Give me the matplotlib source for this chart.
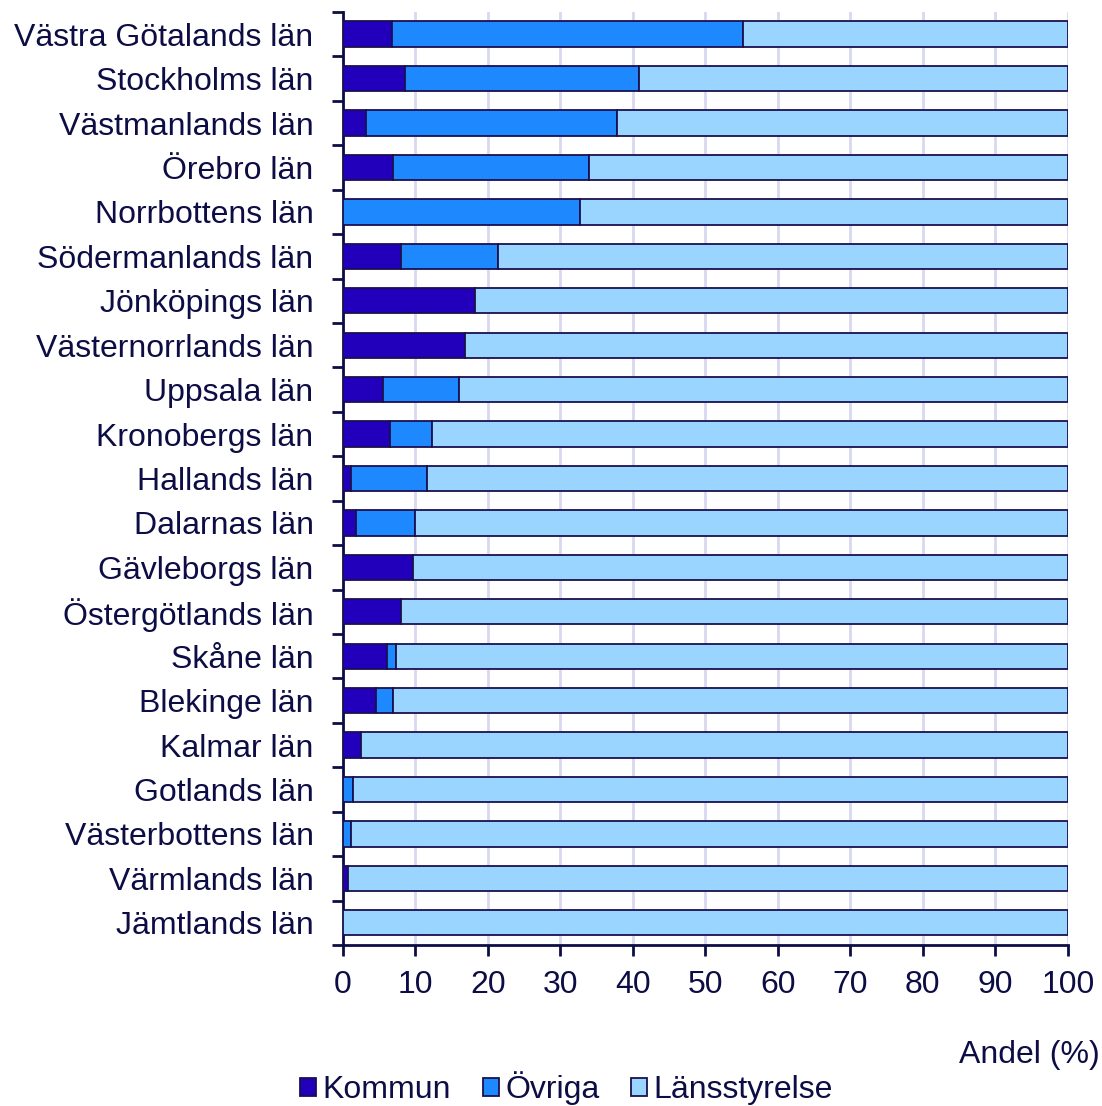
import matplotlib.pyplot as plt
import numpy as np

plt.rcParams['font.family'] = ['Liberation Sans', 'DejaVu Sans']

lan = ["Västra Götalands län", "Stockholms län", "Västmanlands län", "Örebro län",
       "Norrbottens län", "Södermanlands län", "Jönköpings län", "Västernorrlands län",
       "Uppsala län", "Kronobergs län", "Hallands län", "Dalarnas län",
       "Gävleborgs län", "Östergötlands län", "Skåne län", "Blekinge län",
       "Kalmar län", "Gotlands län", "Västerbottens län", "Värmlands län",
       "Jämtlands län"]
kommun = [6.8, 8.6, 3.2, 7.0, 0.0, 8.0, 18.2, 16.8, 5.5, 6.5, 1.2, 1.8,
          9.7, 8.1, 6.1, 4.6, 2.5, 0.0, 0.0, 0.7, 0.0]
ovriga = [48.4, 32.2, 34.6, 26.9, 32.7, 13.4, 0.0, 0.0, 10.6, 5.8, 10.4, 8.1,
          0.0, 0.0, 1.3, 2.3, 0.0, 1.4, 1.1, 0.0, 0.0]
lansstyrelse = [100 - k - o for k, o in zip(kommun, ovriga)]

c_kommun = '#2200bb'
c_ovriga = '#1e88ff'
c_lans = '#99d5ff'
edge = '#1a1050'
txt = '#0d0d45'

fig = plt.figure(figsize=(11.02, 11.06), dpi=100)
ax = fig.add_axes([0.311, 0.1456, 0.658, 0.8436])

y = np.arange(len(lan))
kommun = np.array(kommun)
ovriga = np.array(ovriga)
lansstyrelse = np.array(lansstyrelse)
h = 0.57
ax.barh(y, kommun, height=h, color=c_kommun, edgecolor=edge, linewidth=1.3, label='Kommun', zorder=3)
ax.barh(y, ovriga, left=kommun, height=h, color=c_ovriga, edgecolor=edge, linewidth=1.3, label='Övriga', zorder=3)
ax.barh(y, lansstyrelse, left=kommun + ovriga, height=h, color=c_lans, edgecolor=edge, linewidth=1.3, label='Länsstyrelse', zorder=3)

ax.set_xlim(0, 100)
ax.set_ylim(len(lan) - 0.5, -0.5)
ax.set_xticks(np.arange(0, 101, 10))
ax.set_yticks(y)
ax.set_yticklabels(lan)
ax.set_yticks(np.arange(-0.5, len(lan)), minor=True)
ax.tick_params(axis='y', which='major', length=0, pad=21, labelsize=23, labelcolor=txt)
ax.tick_params(axis='y', which='minor', length=8, width=2, color=txt)
ax.tick_params(axis='x', length=8, width=2, color=txt, labelsize=23, labelcolor=txt, pad=10)

ax.grid(axis='x', color='#d8d8f0', linewidth=2, zorder=0)
for side in ['top', 'right']:
    ax.spines[side].set_visible(False)
for side in ['left', 'bottom']:
    ax.spines[side].set_color(txt)
    ax.spines[side].set_linewidth(2)

fig.text(0.998, 0.046, 'Andel (%)', ha='right', va='center', fontsize=23, color=txt)
leg = fig.legend(loc='center', bbox_to_anchor=(0.514, 0.016), ncol=3, frameon=False,
                 fontsize=23, handlelength=0.5, handleheight=0.5, handletextpad=0.2,
                 columnspacing=1.0, borderaxespad=0)
for t in leg.get_texts():
    t.set_color(txt)

fig.savefig('out.png', dpi=100)
